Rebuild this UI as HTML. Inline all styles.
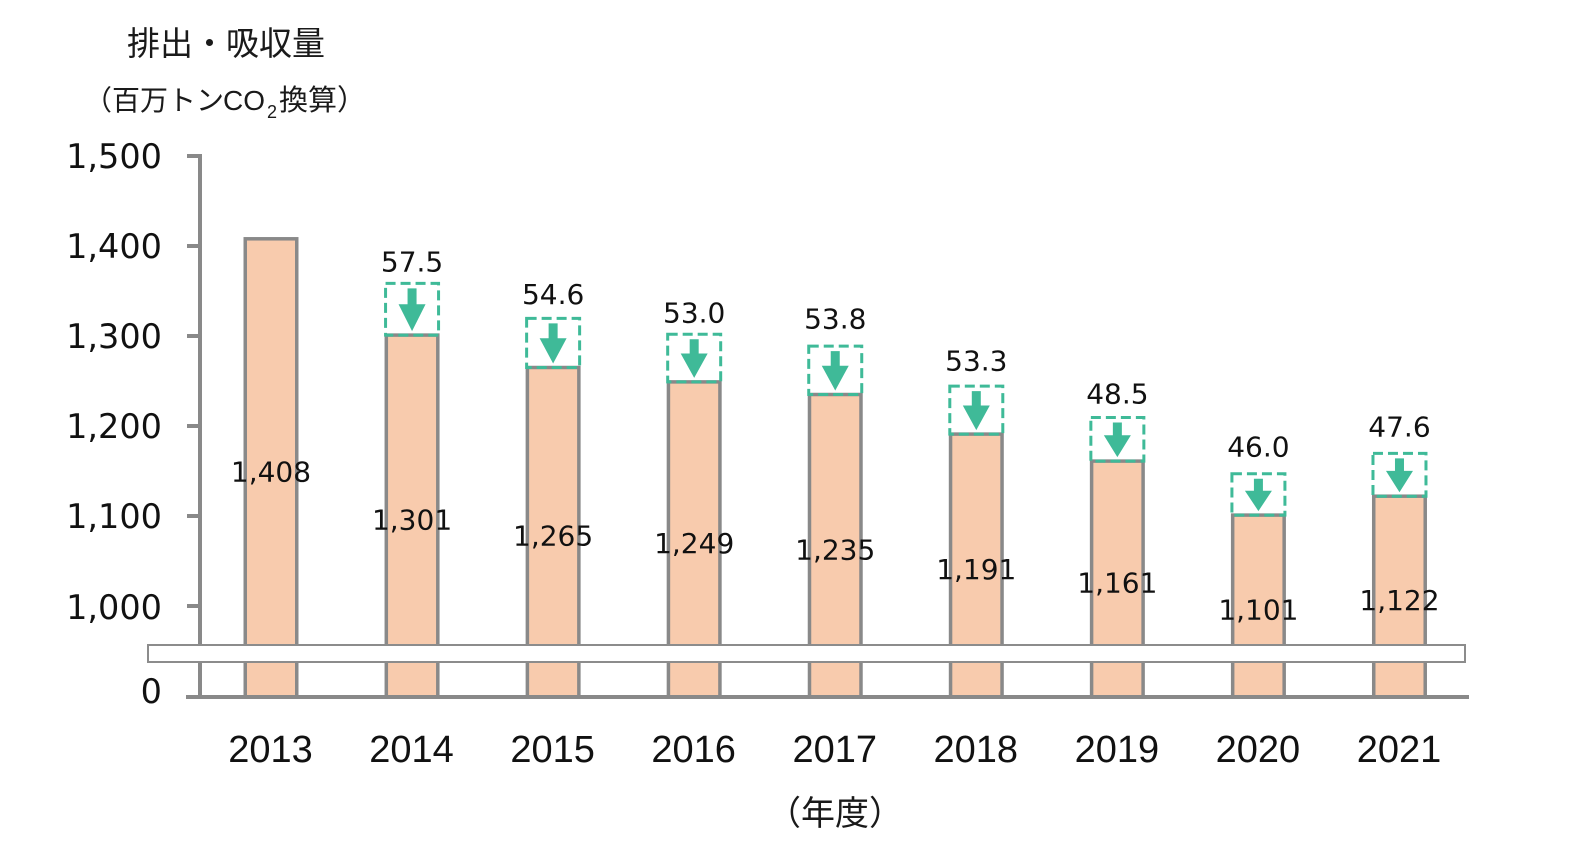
<!DOCTYPE html>
<html><head><meta charset="utf-8"><style>
html,body{margin:0;padding:0;background:#fff;}
svg{display:block;}
.cjk{font-family:"Liberation Sans","Noto Sans CJK JP",sans-serif;fill:#1a1a1a;}
.num{font-family:"DejaVu Sans","Liberation Sans",sans-serif;fill:#111;}
.yr{font-family:"Liberation Sans",sans-serif;fill:#111;}
</style></head><body>
<svg width="1592" height="844" viewBox="0 0 1592 844" xmlns="http://www.w3.org/2000/svg">
<rect width="1592" height="844" fill="#fff"/>
<!-- titles -->
<text class="cjk" x="127" y="55" font-size="33">排出・吸収量</text>
<text class="cjk" x="84" y="110" font-size="28">（百万トン</text>
<text class="cjk" x="223" y="110" font-size="28">CO</text>
<text class="cjk" x="267" y="118" font-size="18">2</text>
<text class="cjk" x="279" y="110" font-size="29">換算）</text>

<!-- y labels -->
<g class="num" font-size="33.5" text-anchor="end">
<text x="162" y="168">1,500</text>
<text x="162" y="258">1,400</text>
<text x="162" y="348">1,300</text>
<text x="162" y="438">1,200</text>
<text x="162" y="528">1,100</text>
<text x="162" y="619">1,000</text>
<text x="162" y="703">0</text>
</g>

<!-- bars -->
<g fill="#F8CBAD" stroke="#898989" stroke-width="3.5">
<rect x="245.25" y="238.8" width="51.5" height="458.2"/>
<rect x="386.31" y="335.1" width="51.5" height="361.9"/>
<rect x="527.37" y="367.5" width="51.5" height="329.5"/>
<rect x="668.43" y="381.9" width="51.5" height="315.1"/>
<rect x="809.49" y="394.5" width="51.5" height="302.5"/>
<rect x="950.55" y="434.1" width="51.5" height="262.9"/>
<rect x="1091.61" y="461.1" width="51.5" height="235.9"/>
<rect x="1232.67" y="515.1" width="51.5" height="181.9"/>
<rect x="1373.73" y="496.2" width="51.5" height="200.8"/>
</g>

<!-- dashed boxes -->
<g fill="none" stroke="#3FBA98" stroke-width="3" stroke-dasharray="10 5">
<rect x="385.56" y="283.35" width="53" height="51.75"/>
<rect x="526.62" y="318.4" width="53" height="49.1"/>
<rect x="667.68" y="334.2" width="53" height="47.7"/>
<rect x="808.74" y="346.1" width="53" height="48.4"/>
<rect x="949.8" y="386.1" width="53" height="48"/>
<rect x="1090.86" y="417.5" width="53" height="43.6"/>
<rect x="1231.92" y="473.7" width="53" height="41.4"/>
<rect x="1372.98" y="453.4" width="53" height="42.8"/>
</g>

<!-- arrows -->
<g fill="#3FBA98">
<polygon points="407.56,288.4 416.56,288.4 416.56,304.2 425.56,304.2 412.06,331.1 398.56,304.2 407.56,304.2"/>
<polygon points="548.62,323.4 557.62,323.4 557.62,338.2 566.62,338.2 553.12,363.5 539.62,338.2 548.62,338.2"/>
<polygon points="689.68,339.2 698.68,339.2 698.68,353.5 707.68,353.5 694.18,377.9 680.68,353.5 689.68,353.5"/>
<polygon points="830.74,351.1 839.74,351.1 839.74,365.7 848.74,365.7 835.24,390.5 821.74,365.7 830.74,365.7"/>
<polygon points="971.8,391.1 980.8,391.1 980.8,405.5 989.8,405.5 976.3,430.1 962.8,405.5 971.8,405.5"/>
<polygon points="1112.86,422.5 1121.86,422.5 1121.86,435.3 1130.86,435.3 1117.36,457.1 1103.86,435.3 1112.86,435.3"/>
<polygon points="1253.92,478.7 1262.92,478.7 1262.92,490.7 1271.92,490.7 1258.42,511.1 1244.92,490.7 1253.92,490.7"/>
<polygon points="1394.98,458.4 1403.98,458.4 1403.98,470.9 1412.98,470.9 1399.48,492.2 1385.98,470.9 1394.98,470.9"/>
</g>

<!-- reduction labels -->
<g class="num" font-size="28" text-anchor="middle">
<text x="412.06" y="271.7">57.5</text>
<text x="553.12" y="304">54.6</text>
<text x="694.18" y="322.3">53.0</text>
<text x="835.24" y="328.3">53.8</text>
<text x="976.3" y="370.7">53.3</text>
<text x="1117.36" y="403.3">48.5</text>
<text x="1258.42" y="456.7">46.0</text>
<text x="1399.48" y="436.7">47.6</text>
</g>

<!-- inside labels -->
<g class="num" font-size="28" text-anchor="middle">
<text x="271" y="481.5">1,408</text>
<text x="412.06" y="529.5">1,301</text>
<text x="553.12" y="545.5">1,265</text>
<text x="694.18" y="553">1,249</text>
<text x="835.24" y="559.3">1,235</text>
<text x="976.3" y="579">1,191</text>
<text x="1117.36" y="592.5">1,161</text>
<text x="1258.42" y="619.5">1,101</text>
<text x="1399.48" y="610">1,122</text>
</g>

<!-- axes -->
<g stroke="#898989" stroke-width="4" fill="none">
<line x1="200" y1="154" x2="200" y2="699"/>
<line x1="186" y1="697" x2="1469" y2="697"/>
<line x1="187" y1="156" x2="200" y2="156"/>
<line x1="187" y1="246" x2="200" y2="246"/>
<line x1="187" y1="336" x2="200" y2="336"/>
<line x1="187" y1="426" x2="200" y2="426"/>
<line x1="187" y1="516" x2="200" y2="516"/>
<line x1="187" y1="606" x2="200" y2="606"/>
</g>

<!-- break band -->
<rect x="148" y="645" width="1317" height="17" fill="#fff" stroke="#8c8c8c" stroke-width="2"/>

<!-- x labels -->
<g class="yr" font-size="38" text-anchor="middle">
<text x="270.5" y="762">2013</text>
<text x="411.56" y="762">2014</text>
<text x="552.62" y="762">2015</text>
<text x="693.68" y="762">2016</text>
<text x="834.74" y="762">2017</text>
<text x="975.8" y="762">2018</text>
<text x="1116.86" y="762">2019</text>
<text x="1257.92" y="762">2020</text>
<text x="1398.98" y="762">2021</text>
</g>
<text class="cjk" x="835" y="825" font-size="34" text-anchor="middle">（年度）</text>
</svg>
</body></html>
